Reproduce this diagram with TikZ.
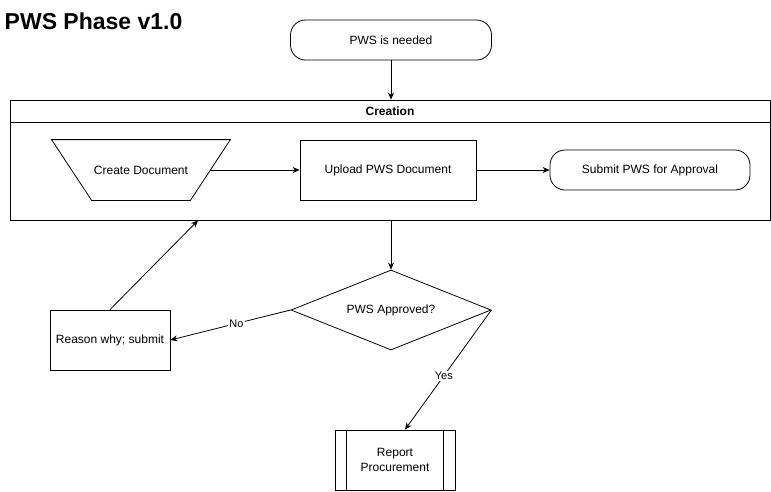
\documentclass[tikz,border=0pt]{standalone}
\usepackage{fontspec}
\setmainfont{Liberation Sans}
\usetikzlibrary{shapes.geometric,arrows.meta}
\tikzset{
  flow/.style={-{Stealth[length=7pt,width=6pt]}},
  terminal/.style={draw, rounded corners=15pt, minimum width=201pt, minimum height=40pt, inner sep=0pt},
  process/.style={draw, minimum width=120pt, minimum height=60pt, inner sep=0pt, align=center},
  manual/.style={minimum width=178pt, minimum height=60pt, inner sep=0pt},
  decision/.style={draw, diamond, aspect=2.5, minimum width=200pt, minimum height=80pt, inner sep=0pt},
  lane/.style={draw, minimum width=760pt, minimum height=120pt, inner sep=0pt},
  edgelabel/.style={fill=white, font=\fontsize{11}{13}\selectfont, inner sep=1pt}
}
\begin{document}
\begin{tikzpicture}[x=1pt, y=-1pt, font=\fontsize{12}{14.5}\selectfont, line width=0.8pt]
    \useasboundingbox (0, 0) rectangle (771, 491);
    \node[anchor=west, font=\fontsize{23}{27}\bfseries] (title) at (1, 21) {PWS Phase v1.0};

    \node[terminal] (needed) at (391, 40) {PWS is needed};

    \node[lane] (creation) at (390, 160) {};
    \node[font=\fontsize{12}{14.5}\bfseries] (creationlbl) at (390, 111.5) {Creation};
    \draw ([yshift=-23pt]creation.north west) -- ([yshift=-23pt]creation.north east);

    \node[manual] (create) at (141, 170) {Create Document};
    \draw (create.north west) -- (create.north east) -- ([xshift=-40pt]create.south east)
        -- ([xshift=40pt]create.south west) -- cycle;
    \node[process, minimum width=176pt] (upload) at (388, 170) {Upload PWS Document};
    \node[terminal, minimum width=200pt] (submit) at (650, 170) {Submit PWS for Approval};

    \node[decision] (approved) at (391, 310) {PWS Approved?};
    \node[process] (reason) at (110, 340) {Reason why; submit};
    \node[process] (report) at (395, 460) {Report\\Procurement};
    \draw ([xshift=12pt]report.north west) -- ([xshift=12pt]report.south west);
    \draw ([xshift=-12pt]report.north east) -- ([xshift=-12pt]report.south east);

    \draw[flow] (needed) -- (creation.north -| needed);
    \draw[flow] ([xshift=-20pt]create.east) -- (upload);
    \draw[flow] (upload) -- (submit);
    \draw[flow] (creation.south -| approved) -- (approved.north);
    \draw[flow] (approved.west) -- node[edgelabel, pos=0.45] {No} (reason.east);
    \draw[flow] (approved.east) -- node[edgelabel, pos=0.55] {Yes} ([xshift=10pt]report.north);
    \draw[flow] (reason.north) -- ([xshift=-192pt]creation.south);
\end{tikzpicture}
\end{document}
